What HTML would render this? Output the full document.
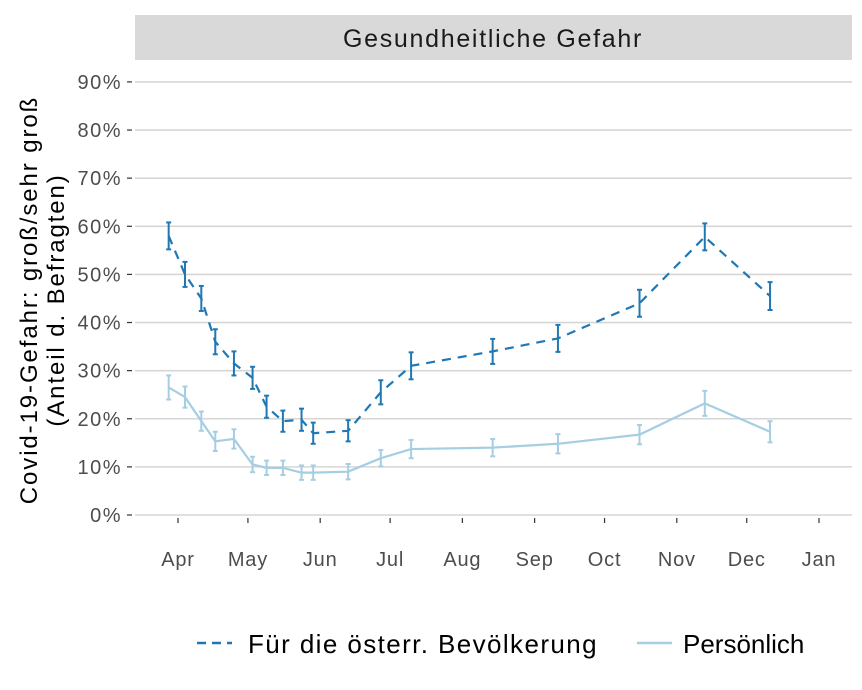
<!DOCTYPE html>
<html><head><meta charset="utf-8"><style>body{margin:0;background:#fff}svg{display:block;font-family:"Liberation Sans",sans-serif}</style></head>
<body>
<svg id="chart" width="862" height="690">
<rect x="135" y="15" width="717" height="45" fill="#d9d9d9"/>
<text x="493" y="47" font-size="25" letter-spacing="1.7" text-anchor="middle" fill="#1a1a1a">Gesundheitliche Gefahr</text>
<g id="grid"></g><g id="marks"></g>
<text transform="translate(37,300) rotate(-90)" font-size="24" letter-spacing="1.9" text-anchor="middle" fill="#000"><tspan x="0" dy="0">Covid-19-Gefahr: groß/sehr groß</tspan><tspan x="0" dy="27">(Anteil d. Befragten)</tspan></text>
<g>
<line x1="197" y1="643" x2="232" y2="643" stroke="#1f78b4" stroke-width="2.5" stroke-dasharray="9,6"/>
<text x="248" y="653" font-size="26" letter-spacing="1.4" fill="#000">Für die österr. Bevölkerung</text>
<line x1="637" y1="643" x2="672" y2="643" stroke="#a6cee3" stroke-width="2.5"/>
<text x="683" y="653" font-size="26" letter-spacing="0" fill="#000">Persönlich</text>
</g>
</svg>
<script>
const days=[-4,3,10,16,24,32,38,45,53,58,73,87,100,135,163,198,226,254];
const popVals=[58,50,45,36,31.5,28.5,22.5,19.5,19.8,17,17.5,25.5,31,34,36.7,44,57.8,45.5];
const popErr=[2.8,2.6,2.6,2.6,2.5,2.3,2.3,2.2,2.3,2.2,2.2,2.5,2.8,2.6,2.8,2.8,2.8,2.9];
const persVals=[26.5,24.5,19.5,15.3,15.8,10.5,9.8,9.8,8.8,8.8,9,11.8,13.7,14,14.8,16.7,23.2,17.3];
const persErr=[2.5,2.2,2.0,2.0,2.0,1.6,1.5,1.5,1.5,1.5,1.6,1.7,1.9,1.8,2.0,2.0,2.6,2.2];
const yTicks=[0,10,20,30,40,50,60,70,80,90];
const monthLabels=["Apr","May","Jun","Jul","Aug","Sep","Oct","Nov","Dec","Jan"];
const monthDays=[0,30,61,91,122,153,183,214,244,275];
const NS="http://www.w3.org/2000/svg";
const xs=d=>178+d*(641/275);
const ys=v=>515-v*4.812;
function mk(t,a,p){const e=document.createElementNS(NS,t);for(const k in a)e.setAttribute(k,a[k]);p.appendChild(e);return e;}
const grid=document.getElementById('grid'),marks=document.getElementById('marks');
yTicks.forEach(v=>{
 const l=mk('line',{x1:135,x2:852,y1:ys(v),y2:ys(v),stroke:'#d6d6d6','stroke-width':1.6},grid);
 
 
 mk('line',{x1:127,x2:132,y1:ys(v),y2:ys(v),stroke:'#333','stroke-width':1.2},grid);
 const t=mk('text',{x:122,y:ys(v)+7,'font-size':20,'letter-spacing':1.5,'text-anchor':'end',fill:'#4d4d4d'},grid);
 t.textContent=v+'%';
 
 
});
monthLabels.forEach((m,i)=>{
 mk('line',{x1:xs(monthDays[i]),x2:xs(monthDays[i]),y1:518,y2:523,stroke:'#333','stroke-width':1.2},grid);
 const t=mk('text',{x:xs(monthDays[i]),y:566,'font-size':20,'letter-spacing':0.8,'text-anchor':'middle',fill:'#4d4d4d'},grid);
 t.textContent=m;
 
 
});
function series(vals,err,col,dash,name){
 const pts=vals.map((v,i)=>xs(days[i])+','+ys(v)).join(' ');
 const a={points:pts,fill:'none',stroke:col,'stroke-width':2.2};
 if(dash)a['stroke-dasharray']=dash;
 const pl=mk('polyline',a,marks);
 
 
 vals.forEach((v,i)=>{
  const x=xs(days[i]),y1=ys(v-err[i]),y2=ys(v+err[i]);
  const g=mk('g',{stroke:col,'stroke-width':2},marks);
  
  
  mk('line',{x1:x,x2:x,y1:y1,y2:y2},g);
  mk('line',{x1:x-2.5,x2:x+2.5,y1:y1,y2:y1},g);
  mk('line',{x1:x-2.5,x2:x+2.5,y1:y2,y2:y2},g);
 });
}
series(persVals,persErr,'#a6cee3',null,'personal');
series(popVals,popErr,'#1f78b4','9,7','population');
</script>
</body></html>
